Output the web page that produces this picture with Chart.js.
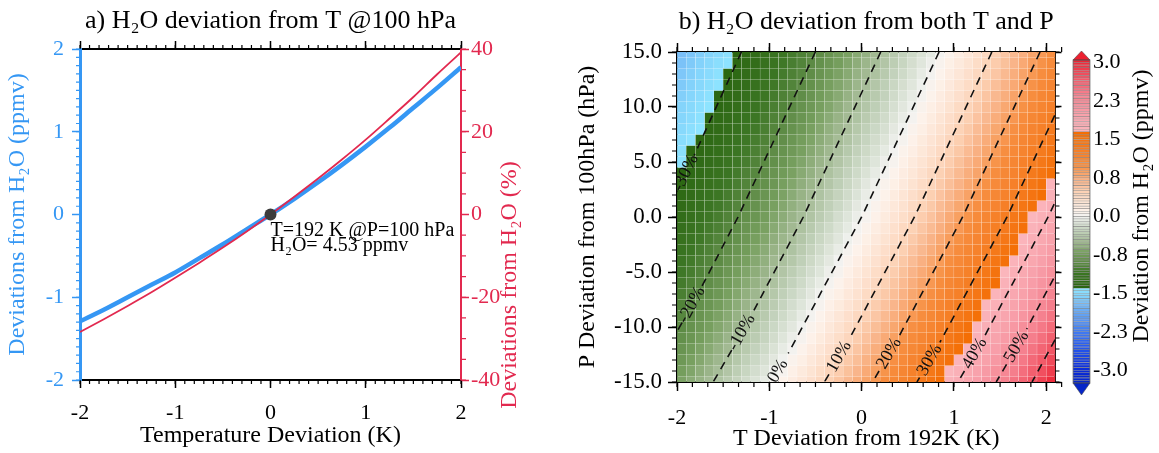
<!DOCTYPE html>
<html>
<head>
<meta charset="utf-8">
<script src="https://cdn.jsdelivr.net/npm/chart.js@4.4.1/dist/chart.umd.min.js"></script>
<style>
  html, body { margin: 0; padding: 0; background: #fff; }
  #wrap { position: relative; width: 1159px; height: 453px; overflow: hidden; }
  canvas { position: absolute; top: 0; }
</style>
</head>
<body>
<div id="wrap">
  <canvas id="lineChart" width="580" height="453" style="left:0"></canvas>
  <canvas id="mapChart" width="501" height="453" style="left:565px"></canvas>
  <canvas id="barChart" width="97" height="453" style="left:1062px"></canvas>
</div>
<script>
// panel a) : H2O deviation vs temperature deviation at 100 hPa
const tempDev = [-2, -1.75, -1.5, -1.25, -1, -0.75, -0.5, -0.25, 0, 0.25, 0.5, 0.75, 1, 1.25, 1.5, 1.75, 2];
const h2oPpmv = [-1.29, -1.15, -1.00, -0.85, -0.70, -0.53, -0.36, -0.18, 0, 0.19, 0.39, 0.60, 0.82, 1.05, 1.29, 1.53, 1.78];
const h2oPct = [-28.4, -25.3, -22.1, -18.8, -15.3, -11.7, -8.0, -4.1, 0, 4.3, 8.7, 13.3, 18.1, 23.2, 28.4, 33.9, 39.2];
const refPoint = [0, 0];
const noteLines = ['T=192 K @P=100 hPa', 'H₂O= 4.53 ppmv'];
const noteX = 0;
const noteY = [-0.2, -0.38];

// panel b) : H2O deviation (ppmv) on a T x P grid
const gridT = [-1.95, -1.85, -1.75, -1.65, -1.55, -1.45, -1.35, -1.25, -1.15, -1.05, -0.95, -0.85, -0.75, -0.65, -0.55, -0.45, -0.35, -0.25, -0.15, -0.05,
  0.05, 0.15, 0.25, 0.35, 0.45, 0.55, 0.65, 0.75, 0.85, 0.95, 1.05, 1.15, 1.25, 1.35, 1.45, 1.55, 1.65, 1.75, 1.85, 1.95, 2.05];
const gridP = [15, 14, 13, 12, 11, 10, 9, 8, 7, 6, 5, 4, 3, 2, 1, 0, -1, -2, -3, -4, -5, -6, -7, -8, -9, -10, -11, -12, -13, -14, -15];
const gridH2O = [
  [-1.68,-1.64,-1.59,-1.54,-1.49,-1.44,-1.38,-1.33,-1.28,-1.22,-1.17,-1.11,-1.05,-0.99,-0.94,-0.88,-0.81,-0.75,-0.69,-0.62,-0.56,-0.49,-0.42,-0.35,-0.28,-0.21,-0.14,-0.07,0.01,0.08,0.16,0.24,0.32,0.40,0.49,0.57,0.66,0.74,0.83,0.92,1.01],
  [-1.66,-1.61,-1.56,-1.51,-1.46,-1.41,-1.36,-1.30,-1.25,-1.19,-1.14,-1.08,-1.02,-0.96,-0.90,-0.84,-0.78,-0.72,-0.65,-0.59,-0.52,-0.46,-0.39,-0.32,-0.25,-0.17,-0.10,-0.03,0.05,0.13,0.20,0.28,0.36,0.45,0.53,0.61,0.70,0.79,0.88,0.97,1.06],
  [-1.63,-1.58,-1.53,-1.48,-1.43,-1.38,-1.33,-1.27,-1.22,-1.16,-1.11,-1.05,-0.99,-0.93,-0.87,-0.81,-0.75,-0.68,-0.62,-0.55,-0.49,-0.42,-0.35,-0.28,-0.21,-0.14,-0.06,0.01,0.09,0.17,0.25,0.33,0.41,0.49,0.57,0.66,0.75,0.84,0.93,1.02,1.11],
  [-1.61,-1.56,-1.51,-1.46,-1.41,-1.35,-1.30,-1.25,-1.19,-1.13,-1.08,-1.02,-0.96,-0.90,-0.84,-0.78,-0.71,-0.65,-0.59,-0.52,-0.45,-0.38,-0.31,-0.24,-0.17,-0.10,-0.02,0.05,0.13,0.21,0.29,0.37,0.45,0.53,0.62,0.71,0.79,0.88,0.97,1.07,1.16],
  [-1.58,-1.53,-1.48,-1.43,-1.38,-1.32,-1.27,-1.22,-1.16,-1.10,-1.05,-0.99,-0.93,-0.87,-0.81,-0.74,-0.68,-0.62,-0.55,-0.48,-0.41,-0.35,-0.28,-0.20,-0.13,-0.06,0.02,0.09,0.17,0.25,0.33,0.41,0.50,0.58,0.67,0.75,0.84,0.93,1.02,1.12,1.21],
  [-1.55,-1.50,-1.45,-1.40,-1.35,-1.30,-1.24,-1.19,-1.13,-1.07,-1.01,-0.96,-0.90,-0.83,-0.77,-0.71,-0.65,-0.58,-0.51,-0.45,-0.38,-0.31,-0.24,-0.16,-0.09,-0.02,0.06,0.14,0.21,0.29,0.38,0.46,0.54,0.63,0.71,0.80,0.89,0.98,1.07,1.17,1.26],
  [-1.53,-1.48,-1.43,-1.37,-1.32,-1.27,-1.21,-1.16,-1.10,-1.04,-0.98,-0.92,-0.86,-0.80,-0.74,-0.67,-0.61,-0.54,-0.48,-0.41,-0.34,-0.27,-0.20,-0.12,-0.05,0.02,0.10,0.18,0.26,0.34,0.42,0.50,0.59,0.67,0.76,0.85,0.94,1.03,1.13,1.22,1.32],
  [-1.50,-1.45,-1.40,-1.34,-1.29,-1.24,-1.18,-1.12,-1.07,-1.01,-0.95,-0.89,-0.83,-0.77,-0.70,-0.64,-0.57,-0.51,-0.44,-0.37,-0.30,-0.23,-0.16,-0.08,-0.01,0.07,0.14,0.22,0.30,0.38,0.47,0.55,0.64,0.72,0.81,0.90,0.99,1.08,1.18,1.27,1.37],
  [-1.47,-1.42,-1.37,-1.31,-1.26,-1.20,-1.15,-1.09,-1.03,-0.98,-0.92,-0.86,-0.79,-0.73,-0.67,-0.60,-0.54,-0.47,-0.40,-0.33,-0.26,-0.19,-0.12,-0.04,0.03,0.11,0.19,0.27,0.35,0.43,0.51,0.60,0.68,0.77,0.86,0.95,1.04,1.14,1.23,1.33,1.43],
  [-1.44,-1.39,-1.34,-1.28,-1.23,-1.17,-1.12,-1.06,-1.00,-0.94,-0.88,-0.82,-0.76,-0.70,-0.63,-0.57,-0.50,-0.43,-0.36,-0.29,-0.22,-0.15,-0.07,0.00,0.08,0.15,0.23,0.31,0.39,0.48,0.56,0.65,0.73,0.82,0.91,1.00,1.10,1.19,1.29,1.38,1.48],
  [-1.41,-1.36,-1.31,-1.25,-1.20,-1.14,-1.08,-1.03,-0.97,-0.91,-0.85,-0.79,-0.72,-0.66,-0.59,-0.53,-0.46,-0.39,-0.32,-0.25,-0.18,-0.11,-0.03,0.04,0.12,0.20,0.28,0.36,0.44,0.52,0.61,0.70,0.78,0.87,0.96,1.06,1.15,1.24,1.34,1.44,1.54],
  [-1.38,-1.33,-1.28,-1.22,-1.17,-1.11,-1.05,-0.99,-0.93,-0.87,-0.81,-0.75,-0.69,-0.62,-0.56,-0.49,-0.42,-0.35,-0.28,-0.21,-0.14,-0.06,0.01,0.09,0.17,0.24,0.32,0.41,0.49,0.57,0.66,0.75,0.83,0.92,1.02,1.11,1.20,1.30,1.40,1.50,1.60],
  [-1.35,-1.30,-1.24,-1.19,-1.13,-1.08,-1.02,-0.96,-0.90,-0.84,-0.78,-0.71,-0.65,-0.58,-0.52,-0.45,-0.38,-0.31,-0.24,-0.17,-0.09,-0.02,0.06,0.13,0.21,0.29,0.37,0.45,0.54,0.62,0.71,0.80,0.89,0.98,1.07,1.16,1.26,1.36,1.46,1.56,1.66],
  [-1.32,-1.27,-1.21,-1.16,-1.10,-1.04,-0.98,-0.92,-0.86,-0.80,-0.74,-0.68,-0.61,-0.54,-0.48,-0.41,-0.34,-0.27,-0.20,-0.13,-0.05,0.02,0.10,0.18,0.26,0.34,0.42,0.50,0.59,0.67,0.76,0.85,0.94,1.03,1.12,1.22,1.32,1.41,1.51,1.62,1.72],
  [-1.29,-1.23,-1.18,-1.12,-1.07,-1.01,-0.95,-0.89,-0.83,-0.76,-0.70,-0.64,-0.57,-0.51,-0.44,-0.37,-0.30,-0.23,-0.16,-0.08,-0.01,0.07,0.15,0.22,0.30,0.39,0.47,0.55,0.64,0.72,0.81,0.90,0.99,1.09,1.18,1.28,1.37,1.47,1.57,1.68,1.78],
  [-1.26,-1.20,-1.15,-1.09,-1.03,-0.97,-0.91,-0.85,-0.79,-0.73,-0.66,-0.60,-0.53,-0.46,-0.40,-0.33,-0.26,-0.18,-0.11,-0.04,0.04,0.11,0.19,0.27,0.35,0.43,0.52,0.60,0.69,0.78,0.87,0.96,1.05,1.14,1.24,1.33,1.43,1.53,1.64,1.74,1.84],
  [-1.22,-1.17,-1.11,-1.05,-1.00,-0.94,-0.88,-0.81,-0.75,-0.69,-0.62,-0.56,-0.49,-0.42,-0.35,-0.28,-0.21,-0.14,-0.07,0.01,0.08,0.16,0.24,0.32,0.40,0.48,0.57,0.65,0.74,0.83,0.92,1.01,1.11,1.20,1.30,1.39,1.49,1.59,1.70,1.80,1.91],
  [-1.19,-1.13,-1.08,-1.02,-0.96,-0.90,-0.84,-0.78,-0.71,-0.65,-0.58,-0.52,-0.45,-0.38,-0.31,-0.24,-0.17,-0.10,-0.02,0.05,0.13,0.21,0.29,0.37,0.45,0.54,0.62,0.71,0.80,0.89,0.98,1.07,1.16,1.26,1.36,1.45,1.56,1.66,1.76,1.87,1.97],
  [-1.16,-1.10,-1.04,-0.98,-0.92,-0.86,-0.80,-0.74,-0.67,-0.61,-0.54,-0.48,-0.41,-0.34,-0.27,-0.20,-0.12,-0.05,0.03,0.10,0.18,0.26,0.34,0.42,0.50,0.59,0.67,0.76,0.85,0.94,1.03,1.13,1.22,1.32,1.42,1.52,1.62,1.72,1.83,1.93,2.04],
  [-1.12,-1.06,-1.00,-0.95,-0.89,-0.82,-0.76,-0.70,-0.63,-0.57,-0.50,-0.43,-0.37,-0.30,-0.22,-0.15,-0.08,0.00,0.07,0.15,0.23,0.31,0.39,0.47,0.56,0.64,0.73,0.82,0.91,1.00,1.09,1.19,1.28,1.38,1.48,1.58,1.68,1.79,1.89,2.00,2.11],
  [-1.08,-1.03,-0.97,-0.91,-0.85,-0.78,-0.72,-0.66,-0.59,-0.53,-0.46,-0.39,-0.32,-0.25,-0.18,-0.11,-0.03,0.04,0.12,0.20,0.28,0.36,0.44,0.52,0.61,0.70,0.78,0.87,0.96,1.06,1.15,1.25,1.34,1.44,1.54,1.64,1.75,1.85,1.96,2.07,2.18],
  [-1.05,-0.99,-0.93,-0.87,-0.81,-0.75,-0.68,-0.62,-0.55,-0.48,-0.42,-0.35,-0.28,-0.21,-0.13,-0.06,0.02,0.09,0.17,0.25,0.33,0.41,0.49,0.58,0.66,0.75,0.84,0.93,1.02,1.12,1.21,1.31,1.41,1.50,1.61,1.71,1.81,1.92,2.03,2.14,2.25],
  [-1.01,-0.95,-0.89,-0.83,-0.77,-0.70,-0.64,-0.57,-0.51,-0.44,-0.37,-0.30,-0.23,-0.16,-0.09,-0.01,0.07,0.14,0.22,0.30,0.38,0.46,0.55,0.63,0.72,0.81,0.90,0.99,1.08,1.18,1.27,1.37,1.47,1.57,1.67,1.78,1.88,1.99,2.10,2.21,2.32],
  [-0.97,-0.91,-0.85,-0.79,-0.73,-0.66,-0.60,-0.53,-0.46,-0.40,-0.33,-0.26,-0.18,-0.11,-0.04,0.04,0.12,0.19,0.27,0.35,0.44,0.52,0.60,0.69,0.78,0.87,0.96,1.05,1.14,1.24,1.34,1.43,1.53,1.64,1.74,1.84,1.95,2.06,2.17,2.28,2.40],
  [-0.93,-0.87,-0.81,-0.75,-0.68,-0.62,-0.55,-0.49,-0.42,-0.35,-0.28,-0.21,-0.14,-0.06,0.01,0.09,0.17,0.25,0.33,0.41,0.49,0.57,0.66,0.75,0.84,0.93,1.02,1.11,1.21,1.30,1.40,1.50,1.60,1.70,1.81,1.91,2.02,2.13,2.25,2.36,2.47],
  [-0.89,-0.83,-0.77,-0.71,-0.64,-0.58,-0.51,-0.44,-0.37,-0.30,-0.23,-0.16,-0.09,-0.01,0.06,0.14,0.22,0.30,0.38,0.46,0.55,0.63,0.72,0.81,0.90,0.99,1.08,1.17,1.27,1.37,1.47,1.57,1.67,1.77,1.88,1.99,2.10,2.21,2.32,2.44,2.55],
  [-0.85,-0.79,-0.73,-0.66,-0.60,-0.53,-0.47,-0.40,-0.33,-0.26,-0.19,-0.11,-0.04,0.04,0.11,0.19,0.27,0.35,0.43,0.52,0.60,0.69,0.78,0.87,0.96,1.05,1.14,1.24,1.33,1.43,1.53,1.63,1.74,1.84,1.95,2.06,2.17,2.28,2.40,2.51,2.63],
  [-0.81,-0.75,-0.68,-0.62,-0.55,-0.49,-0.42,-0.35,-0.28,-0.21,-0.14,-0.06,0.01,0.09,0.17,0.25,0.33,0.41,0.49,0.58,0.66,0.75,0.84,0.93,1.02,1.11,1.21,1.30,1.40,1.50,1.60,1.70,1.81,1.92,2.02,2.13,2.25,2.36,2.48,2.59,2.71],
  [-0.77,-0.70,-0.64,-0.57,-0.51,-0.44,-0.37,-0.30,-0.23,-0.16,-0.09,-0.01,0.07,0.14,0.22,0.30,0.38,0.46,0.55,0.63,0.72,0.81,0.90,0.99,1.08,1.18,1.27,1.37,1.47,1.57,1.67,1.78,1.88,1.99,2.10,2.21,2.32,2.44,2.56,2.68,2.80],
  [-0.72,-0.66,-0.59,-0.53,-0.46,-0.39,-0.32,-0.25,-0.18,-0.11,-0.03,0.04,0.12,0.20,0.28,0.36,0.44,0.52,0.61,0.69,0.78,0.87,0.96,1.05,1.15,1.24,1.34,1.44,1.54,1.64,1.74,1.85,1.96,2.07,2.18,2.29,2.40,2.52,2.64,2.76,2.88],
  [-0.68,-0.61,-0.55,-0.48,-0.41,-0.34,-0.27,-0.20,-0.13,-0.06,0.02,0.10,0.17,0.25,0.33,0.41,0.50,0.58,0.67,0.76,0.84,0.93,1.03,1.12,1.21,1.31,1.41,1.51,1.61,1.71,1.82,1.93,2.03,2.14,2.26,2.37,2.49,2.60,2.72,2.85,2.97]
];

// dashed % contours: [T, P] points, null = gap where the label sits
const contourNames = ['-30%', '-20%', '-10%', '0%', '10%', '20%', '30%', '40%', '50%', '60%'];
const contourPts = [
  [[-1.302, 15], [-1.814, 5.6], null, [-1.999, 2.4], [-3.116, -15]],
  [[-0.501, 15], [-1.339, 0], [-1.736, -6.4], null, [-1.945, -9.6], [-2.315, -15]],
  [[0.207, 15], [-0.632, 0], [-1.192, -8.9], null, [-1.407, -12.1], [-1.608, -15]],
  [[0.839, 15], [0, 0], [-0.795, -12.4], null, [-1.018, -15.6]],
  [[1.411, 15], [0.572, 0], [-0.134, -11.1], null, [-0.354, -14.3], [-0.403, -15]],
  [[1.933, 15], [1.094, 0], [0.408, -10.8], null, [0.189, -14.0], [0.119, -15]],
  [[2.414, 15], [1.575, 0], [0.848, -11.4], null, [0.628, -14.6], [0.599, -15]],
  [[2.859, 15], [2.020, 0], [1.334, -10.8], null, [1.114, -14.0], [1.044, -15]],
  [[3.273, 15], [2.434, 0], [1.788, -10.2], null, [1.570, -13.4], [1.458, -15]],
  [[3.660, 15], [2.821, 0], [1.846, -15]]
];

// colour bar
const cbTicks = [3, 2.25, 1.5, 0.75, 0, -0.75, -1.5, -2.25, -3];
const cbTickLabels = ['3.0', '2.3', '1.5', '0.8', '0.0', '-0.8', '-1.5', '-2.3', '-3.0'];
const cbMin = -3.25, cbStep = 0.05, cbCount = 126;

const SERIF = "'Liberation Serif', 'Times New Roman', Times, serif";
const BLUE = '#3597f4';
const RED = '#e2294f';
Chart.defaults.font.family = SERIF;
Chart.defaults.color = '#000';

const cmapStops = [
  [-3.25, '#0626c8'], [-3.0, '#0a2ad8'], [-2.5, '#2a5ef0'], [-2.0, '#5a98f2'], [-1.7, '#78bcf7'], [-1.55, '#84d4fb'], [-1.4, '#8ee4ff'],
  [-1.3999, '#2a6510'], [-1.1, '#3c7624'], [-0.9, '#5c8a44'], [-0.7, '#78a060'], [-0.5, '#a0b890'], [-0.3, '#c0d0b8'], [-0.1, '#e0e6dc'], [0, '#f2f2f0'],
  [0.1, '#fdf2ea'], [0.3, '#fde2d0'], [0.5, '#fcd0b2'], [0.7, '#f9b489'], [0.9, '#f89c5a'], [1.0, '#f78e40'], [1.2, '#f6832e'], [1.4, '#f57a1c'], [1.634, '#f46e04'],
  [1.635, '#fbb6bc'], [2.0, '#f8a0aa'], [2.4, '#f57e8c'], [2.8, '#f04a5a'], [3.05, '#ec2030']
];
function hexRgb(h) {
  const n = parseInt(h.slice(1), 16);
  return [(n >> 16) & 255, (n >> 8) & 255, n & 255];
}
function cmap(v) {
  const s = cmapStops;
  if (v <= s[0][0]) return s[0][1];
  for (let i = 0; i < s.length - 1; i++) {
    if (v <= s[i + 1][0]) {
      const t = (v - s[i][0]) / (s[i + 1][0] - s[i][0]);
      const a = hexRgb(s[i][1]), b = hexRgb(s[i + 1][1]);
      return 'rgb(' + a.map((c, k) => Math.round(c + (b[k] - c) * t)).join(',') + ')';
    }
  }
  return s[s.length - 1][1];
}

// small outward ticks between the labelled ones
function minorTicks(list) {
  return {
    id: 'minorTicks',
    afterDraw(chart) {
      const { ctx, chartArea: a } = chart;
      list.forEach(m => {
        const s = chart.scales[m.id];
        const n = Math.round((s.max - s.min) / m.step + 1e-6);
        ctx.save();
        ctx.strokeStyle = m.color || '#000';
        ctx.lineWidth = 1.2;
        ctx.beginPath();
        for (let i = 0; i <= n; i++) {
          const p = s.getPixelForValue(s.min + i * m.step);
          if (s.position === 'bottom') { ctx.moveTo(p, a.bottom); ctx.lineTo(p, a.bottom + m.len); }
          else if (s.position === 'top') { ctx.moveTo(p, a.top); ctx.lineTo(p, a.top - m.len); }
          else if (s.position === 'left') { ctx.moveTo(a.left, p); ctx.lineTo(a.left - m.len, p); }
          else { ctx.moveTo(a.right, p); ctx.lineTo(a.right + m.len, p); }
        }
        ctx.stroke();
        ctx.restore();
      });
    }
  };
}

const leftExtras = {
  id: 'leftExtras',
  afterDraw(chart) {
    const { ctx, chartArea: a, scales } = chart;
    ctx.save();
    ctx.fillStyle = '#000';
    ctx.font = '20px ' + SERIF;
    ctx.textAlign = 'left';
    ctx.textBaseline = 'middle';
    noteLines.forEach((t, i) => {
      ctx.fillText(t, scales.x.getPixelForValue(noteX), scales.y.getPixelForValue(noteY[i]));
    });
    ctx.translate(a.right + 49, 285);
    ctx.rotate(-Math.PI / 2);
    ctx.fillStyle = RED;
    ctx.font = '24px ' + SERIF;
    ctx.textAlign = 'center';
    ctx.fillText('Deviations from H₂O (%)', 0, 0);
    ctx.restore();
  }
};

new Chart(document.getElementById('lineChart'), {
  type: 'line',
  data: {
    datasets: [
      { label: 'ppmv', data: tempDev.map((t, i) => ({ x: t, y: h2oPpmv[i] })), yAxisID: 'y',
        borderColor: BLUE, borderWidth: 4.5, pointRadius: 0, cubicInterpolationMode: 'monotone', order: 2 },
      { label: 'percent', data: tempDev.map((t, i) => ({ x: t, y: h2oPct[i] })), yAxisID: 'y1',
        borderColor: RED, borderWidth: 1.8, pointRadius: 0, cubicInterpolationMode: 'monotone', order: 1 },
      { label: 'ref', data: [{ x: refPoint[0], y: refPoint[1] }], yAxisID: 'y', showLine: false,
        pointRadius: 6, pointBackgroundColor: '#3c3c3c', pointBorderWidth: 0, order: 0 }
    ]
  },
  options: {
    responsive: false, animation: false, events: [],
    layout: { padding: 0 },
    plugins: {
      legend: { display: false }, tooltip: { enabled: false },
      title: { display: true, text: 'a) H₂O deviation from T @100 hPa', fullSize: false, color: '#000',
        font: { size: 26, weight: 'normal' }, padding: { top: 6, bottom: 3.8 } }
    },
    scales: {
      x: { type: 'linear', position: 'bottom', min: -2, max: 2, z: 1,
        ticks: { stepSize: 1, font: { size: 22 }, padding: 12, maxRotation: 0, color: '#000' },
        grid: { drawOnChartArea: false, tickLength: 8, tickWidth: 1.5, tickColor: '#000' },
        border: { color: '#000', width: 2 },
        title: { display: true, text: 'Temperature Deviation (K)', font: { size: 24 }, padding: { top: 0, bottom: 3 } },
        afterFit: s => { s.height = 73; } },
      xTop: { type: 'linear', position: 'top', min: -2, max: 2, z: 1,
        ticks: { display: false, stepSize: 1 },
        grid: { drawOnChartArea: false, tickLength: 8, tickWidth: 1.5, tickColor: '#000' },
        border: { color: '#000', width: 2 },
        afterFit: s => { s.height = 8; } },
      y: { type: 'linear', position: 'left', min: -2, max: 2, z: 1,
        ticks: { stepSize: 1, font: { size: 22 }, padding: 8, color: BLUE },
        grid: { drawOnChartArea: false, tickLength: 8, tickWidth: 1.5, tickColor: BLUE },
        border: { color: BLUE, width: 3 },
        title: { display: true, text: 'Deviations from H₂O (ppmv)', color: BLUE, font: { size: 24 }, padding: { top: 3, bottom: 0 } },
        afterFit: s => { s.width = 80; } },
      y1: { type: 'linear', position: 'right', min: -40, max: 40, z: 1,
        ticks: { stepSize: 20, font: { size: 22 }, padding: 2, color: RED },
        grid: { drawOnChartArea: false, tickLength: 8, tickWidth: 1.5, tickColor: RED },
        border: { color: RED, width: 2 },
        afterFit: s => { s.width = 119; } }
    }
  },
  plugins: [minorTicks([
    { id: 'x', step: 0.1, len: 4 }, { id: 'xTop', step: 0.1, len: 4 },
    { id: 'y', step: 0.1, len: 4, color: BLUE }, { id: 'y1', step: 5, len: 5, color: RED }
  ]), leftExtras]
});

// contour labels sit in the gap of each dashed line
const contourText = {
  id: 'contourText',
  afterDatasetsDraw(chart) {
    const { ctx, chartArea: a, scales: { x, y } } = chart;
    ctx.save();
    ctx.beginPath();
    ctx.rect(a.left, a.top, a.right - a.left, a.bottom - a.top);
    ctx.clip();
    ctx.font = '18px ' + SERIF;
    ctx.fillStyle = '#111';
    ctx.textAlign = 'center';
    ctx.textBaseline = 'middle';
    contourPts.forEach((pts, k) => {
      const g = pts.indexOf(null);
      if (g < 0) return;
      const p0 = pts[g - 1], p1 = pts[g + 1];
      const x0 = x.getPixelForValue(p0[0]), y0 = y.getPixelForValue(p0[1]);
      const x1 = x.getPixelForValue(p1[0]), y1 = y.getPixelForValue(p1[1]);
      ctx.save();
      ctx.translate((x0 + x1) / 2, (y0 + y1) / 2);
      ctx.rotate(Math.atan2(y0 - y1, x0 - x1));
      ctx.fillText(contourNames[k], 0, 0);
      ctx.restore();
    });
    ctx.restore();
  }
};

const cellSets = gridP.map((p, r) => ({
  type: 'bar',
  data: gridT.map(t => ({ x: t, y: [p - 0.5, p + 0.5] })),
  backgroundColor: gridH2O[r].map(cmap),
  borderColor: 'rgba(255,255,255,0.16)',
  borderWidth: 0.5,
  borderSkipped: false,
  inflateAmount: 0.4,
  grouped: false,
  barPercentage: 1,
  categoryPercentage: 1,
  clip: 0,
  order: 2
}));
const contourSets = contourPts.map(pts => ({
  type: 'line',
  data: pts.map(q => q ? { x: q[0], y: q[1] } : { x: 0, y: null }),
  borderColor: '#111',
  borderWidth: 1.6,
  borderDash: [8, 6],
  pointRadius: 0,
  fill: false,
  spanGaps: false,
  clip: 0,
  order: 1
}));

new Chart(document.getElementById('mapChart'), {
  type: 'bar',
  data: { datasets: cellSets.concat(contourSets) },
  options: {
    responsive: false, animation: false, events: [],
    layout: { padding: 0 },
    plugins: {
      legend: { display: false }, tooltip: { enabled: false },
      title: { display: true, text: 'b) H₂O deviation from both T and P', fullSize: false, color: '#000',
        font: { size: 26, weight: 'normal' }, padding: { top: 7, bottom: 5.8 } }
    },
    scales: {
      x: { type: 'linear', position: 'bottom', min: -2, max: 2.1, offset: false, z: 1,
        ticks: { stepSize: 1, includeBounds: false, font: { size: 22 }, padding: 14, maxRotation: 0 },
        grid: { drawOnChartArea: false, offset: false, tickLength: 9, tickWidth: 1.5, tickColor: '#000' },
        border: { color: '#000', width: 2 },
        title: { display: true, text: 'T Deviation from 192K (K)', font: { size: 24 }, padding: { top: 0, bottom: 0 } },
        afterFit: s => { s.height = 71; } },
      xTop: { type: 'linear', position: 'top', min: -2, max: 2.1, offset: false, z: 1,
        ticks: { display: false, stepSize: 1, includeBounds: false },
        grid: { drawOnChartArea: false, offset: false, tickLength: 9, tickWidth: 1.5, tickColor: '#000' },
        border: { color: '#000', width: 2 },
        afterFit: s => { s.height = 8; } },
      y: { type: 'linear', position: 'left', min: -15, max: 15, z: 1,
        ticks: { stepSize: 5, font: { size: 23 }, padding: 6, callback: v => v.toFixed(1) },
        grid: { drawOnChartArea: false, tickLength: 9, tickWidth: 1.5, tickColor: '#000' },
        border: { color: '#000', width: 2 },
        title: { display: true, text: 'P Deviation from 100hPa (hPa)', font: { size: 24 }, padding: { top: 8, bottom: 0 } },
        afterFit: s => { s.width = 112; } },
      yR: { type: 'linear', position: 'right', min: -15, max: 15, z: 1,
        ticks: { display: false, stepSize: 5 },
        grid: { drawOnChartArea: false, tickLength: 6, tickWidth: 1.5, tickColor: '#000' },
        border: { color: '#000', width: 2 },
        afterFit: s => { s.width = 7; } }
    }
  },
  plugins: [minorTicks([
    { id: 'x', step: 1 / 6, len: 5 }, { id: 'xTop', step: 1 / 6, len: 5 },
    { id: 'y', step: 1, len: 5 }, { id: 'yR', step: 1, len: 4 }
  ]), contourText]
});

// colour bar with end triangles
const cbSets = [];
for (let i = 0; i < cbCount; i++) {
  const lo = cbMin + i * cbStep, hi = lo + cbStep;
  cbSets.push({
    data: [[lo, hi]],
    backgroundColor: cmap((lo + hi) / 2),
    borderColor: 'rgba(70,70,70,0.45)',
    borderWidth: 0.6,
    borderSkipped: false,
    grouped: false,
    barPercentage: 1,
    categoryPercentage: 1
  });
}
const cbExtras = {
  id: 'cbExtras',
  afterDraw(chart) {
    const { ctx, chartArea: a } = chart;
    const cx = (a.left + a.right) / 2;
    ctx.save();
    ctx.strokeStyle = 'rgba(70,70,70,0.7)';
    ctx.lineWidth = 0.8;
    ctx.fillStyle = cmap(3.05);
    ctx.beginPath(); ctx.moveTo(a.left, a.top); ctx.lineTo(cx, a.top - 9); ctx.lineTo(a.right, a.top); ctx.closePath();
    ctx.fill(); ctx.stroke();
    ctx.fillStyle = cmap(-3.25);
    ctx.beginPath(); ctx.moveTo(a.left, a.bottom); ctx.lineTo(cx, a.bottom + 12); ctx.lineTo(a.right, a.bottom); ctx.closePath();
    ctx.fill(); ctx.stroke();
    ctx.strokeRect(a.left, a.top, a.right - a.left, a.bottom - a.top);
    ctx.translate(a.right + 52, 206);
    ctx.rotate(-Math.PI / 2);
    ctx.fillStyle = '#000';
    ctx.font = '24px ' + SERIF;
    ctx.textAlign = 'center';
    ctx.textBaseline = 'middle';
    ctx.fillText('Deviation from H₂O (ppmv)', 0, 0);
    ctx.restore();
  }
};

new Chart(document.getElementById('barChart'), {
  type: 'bar',
  data: { labels: [''], datasets: cbSets },
  options: {
    responsive: false, animation: false, events: [],
    layout: { padding: { top: 60, bottom: 70, left: 11, right: 0 } },
    plugins: { legend: { display: false }, tooltip: { enabled: false } },
    scales: {
      x: { display: false, offset: true },
      y: { position: 'right', min: -3.25, max: 3.05,
        afterBuildTicks: s => { s.ticks = cbTicks.map(v => ({ value: v })); },
        ticks: { callback: (v, i) => cbTickLabels[i], font: { size: 22 }, padding: 3 },
        grid: { display: false, drawTicks: false },
        border: { display: false },
        afterFit: s => { s.width = 69; } }
    }
  },
  plugins: [cbExtras]
});
</script>
</body>
</html>
